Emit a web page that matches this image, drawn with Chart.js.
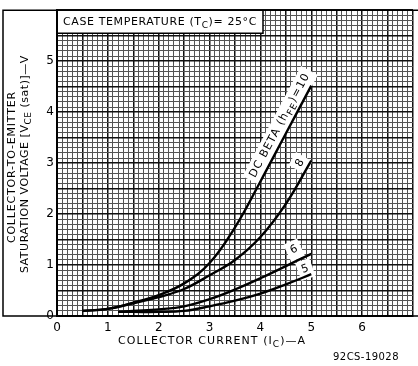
<!DOCTYPE html>
<html>
<head>
<meta charset="utf-8">
<script src="https://cdn.jsdelivr.net/npm/chart.js@4.4.0/dist/chart.umd.min.js"></script>
<style>
  html, body { margin: 0; padding: 0; background: #fff; }
  #wrap { width: 418px; height: 366px; }
</style>
</head>
<body>
<div id="wrap"><canvas id="vce" width="418" height="366"></canvas></div>
<script>
// collector current (A) and saturation voltage (V)
const currentHigh = [0.5, 1, 1.5, 2, 2.5, 3, 3.5, 4, 4.5, 5];
const vceBeta10 = [0.1, 0.14, 0.26, 0.41, 0.64, 1.04, 1.74, 2.64, 3.58, 4.52];
const vceBeta8 = [0.1, 0.14, 0.25, 0.37, 0.53, 0.8, 1.1, 1.55, 2.2, 3.05];
const currentLow = [1.2, 1.5, 2, 2.5, 3, 3.5, 4, 4.5, 5];
const vceBeta6 = [0.08, 0.1, 0.13, 0.19, 0.33, 0.52, 0.74, 0.98, 1.22];
const vceBeta5 = [0.08, 0.08, 0.08, 0.1, 0.19, 0.3, 0.44, 0.62, 0.82];

const xTickLabels = [0, 1, 2, 3, 4, 5, 6];
const yTickLabels = [0, 1, 2, 3, 4, 5];

// curve tags, in data units (x = A, y = V), angle in degrees
const curveTags = [
  { segs: [['DC BETA (h'], ['FE', 1], [')=10']], x: 4.38, y: 3.74, rot: -62 },
  { segs: [['8']], x: 4.78, y: 3.0, rot: -60 },
  { segs: [['6']], x: 4.66, y: 1.3, rot: -25 },
  { segs: [['5']], x: 4.88, y: 0.92, rot: -20 }
];

const FONT = '"DejaVu Sans"';

const pts = (xs, ys) => xs.map((x, i) => ({ x: x, y: ys[i] }));
const isHalf = v => Math.abs(v * 2 - Math.round(v * 2)) < 1e-6;
const isInt = v => Math.abs(v - Math.round(v)) < 1e-6;

// one grid line every 0.1
function tenthTicks(scale) {
  const out = [];
  for (let i = Math.round(scale.min * 10); i <= Math.round(scale.max * 10); i++) {
    out.push({ value: i / 10 });
  }
  scale.ticks = out;
}

// draw text made of normal + subscript pieces
function segWidth(ctx, segs, size) {
  let w = 0;
  segs.forEach(s => {
    ctx.font = (s[1] ? Math.round(size * 0.8) : size) + 'px ' + FONT;
    w += ctx.measureText(s[0]).width;
  });
  return w;
}
function drawSegs(ctx, segs, x, y, size, spacing) {
  ctx.letterSpacing = spacing + 'px';
  const w = segWidth(ctx, segs, size);
  let cx = x - w / 2;
  segs.forEach(s => {
    ctx.font = (s[1] ? Math.round(size * 0.8) : size) + 'px ' + FONT;
    ctx.fillText(s[0], cx, s[1] ? y + size * 0.35 : y);
    cx += ctx.measureText(s[0]).width;
  });
  ctx.letterSpacing = '0px';
  return w;
}
// spacing so the text fills a given width
function fitSpacing(ctx, segs, size, target) {
  ctx.letterSpacing = '0px';
  const w = segWidth(ctx, segs, size);
  const n = segs.reduce((a, s) => a + s[0].length, 0);
  return Math.max(0, (target - w) / n);
}

const decor = {
  id: 'decor',
  beforeDatasetsDraw(chart) {
    // curve tags on white patches, under the curves
    const ctx = chart.ctx;
    const xs = chart.scales.x, ys = chart.scales.y;
    ctx.save();
    ctx.textBaseline = 'middle';
    curveTags.forEach(t => {
      const px = xs.getPixelForValue(t.x), py = ys.getPixelForValue(t.y);
      ctx.save();
      ctx.translate(px, py);
      ctx.rotate(t.rot * Math.PI / 180);
      const sp = t.segs.length > 1 ? 1 : 0;
      ctx.letterSpacing = sp + 'px';
      const w = segWidth(ctx, t.segs, 11);
      ctx.fillStyle = '#fff';
      ctx.fillRect(-w / 2 - 4, -9, w + 8, 19);
      ctx.fillStyle = '#000';
      drawSegs(ctx, t.segs, 0, 0, 11, sp);
      ctx.restore();
    });
    ctx.restore();
  },
  afterDatasetsDraw(chart) {
    const ctx = chart.ctx;
    const area = chart.chartArea;
    ctx.save();
    ctx.textBaseline = 'middle';
    // case temperature box
    ctx.fillStyle = '#fff';
    ctx.fillRect(area.left + 1, area.top, 205, 23);
    ctx.strokeStyle = '#000';
    ctx.lineWidth = 1.5;
    ctx.beginPath();
    ctx.moveTo(area.left, area.top + 23);
    ctx.lineTo(area.left + 206, area.top + 23);
    ctx.lineTo(area.left + 206, area.top);
    ctx.stroke();
    ctx.fillStyle = '#000';
    const caseSegs = [['CASE TEMPERATURE (T'], ['C', 1], [')= 25°C']];
    drawSegs(ctx, caseSegs, area.left + 103, area.top + 12, 11, fitSpacing(ctx, caseSegs, 11, 194));
    ctx.restore();
  },
  afterDraw(chart) {
    const ctx = chart.ctx;
    const area = chart.chartArea;
    const xs = chart.scales.x;
    ctx.save();
    // outer frame
    ctx.strokeStyle = '#000';
    ctx.lineWidth = 1.5;
    ctx.beginPath();
    ctx.moveTo(420, area.top);
    ctx.lineTo(3, area.top);
    ctx.lineTo(3, area.bottom);
    ctx.lineTo(420, area.bottom);
    ctx.stroke();

    ctx.fillStyle = '#000';
    ctx.textBaseline = 'middle';

    // y title, two rotated lines
    const midY = (area.top + area.bottom) / 2;
    const l1 = [['COLLECTOR-TO-EMITTER']];
    const l2 = [['SATURATION VOLTAGE [V'], ['CE', 1], [' (sat)]—V']];
    ctx.save();
    ctx.translate(12, midY + 4);
    ctx.rotate(-Math.PI / 2);
    drawSegs(ctx, l1, 0, 0, 11, fitSpacing(ctx, l1, 11, 152));
    ctx.restore();
    ctx.save();
    ctx.translate(25, midY + 1);
    ctx.rotate(-Math.PI / 2);
    drawSegs(ctx, l2, 0, 0, 11, fitSpacing(ctx, l2, 11, 218));
    ctx.restore();

    // x title
    const xt = [['COLLECTOR CURRENT (I'], ['C', 1], [')—A']];
    drawSegs(ctx, xt, xs.getPixelForValue(3.05), 341, 11, fitSpacing(ctx, xt, 11, 188));

    // drawing code
    const code = [['92CS-19028']];
    drawSegs(ctx, code, 366, 357, 10, fitSpacing(ctx, code, 10, 66));
    ctx.restore();
  }
};

const lineStyle = {
  borderColor: '#000',
  borderWidth: 2.4,
  pointRadius: 0,
  fill: false,
  tension: 0.4
};

const gridStyle = {
  drawTicks: false,
  color: c => (c.tick && isHalf(c.tick.value)) ? '#111' : '#555',
  lineWidth: c => (c.tick && isHalf(c.tick.value)) ? 1.5 : 1
};

new Chart(document.getElementById('vce'), {
  type: 'line',
  data: {
    datasets: [
      Object.assign({ label: 'hFE=10', data: pts(currentHigh, vceBeta10) }, lineStyle),
      Object.assign({ label: 'hFE=8', data: pts(currentHigh, vceBeta8) }, lineStyle),
      Object.assign({ label: 'hFE=6', data: pts(currentLow, vceBeta6) }, lineStyle),
      Object.assign({ label: 'hFE=5', data: pts(currentLow, vceBeta5) }, lineStyle)
    ]
  },
  options: {
    responsive: false,
    animation: false,
    devicePixelRatio: 1,
    layout: { padding: { top: 5, left: 0, right: 0, bottom: 0 } },
    plugins: { legend: { display: false }, tooltip: { enabled: false } },
    scales: {
      x: {
        type: 'linear',
        min: 0,
        max: 7,
        afterBuildTicks: tenthTicks,
        afterFit: s => { s.height = 50; },
        border: { color: '#000', width: 2 },
        grid: gridStyle,
        ticks: {
          autoSkip: false,
          maxRotation: 0,
          padding: 5,
          color: '#000',
          font: { family: 'DejaVu Sans', size: 12 },
          callback: v => (isInt(v) && xTickLabels.includes(Math.round(v))) ? String(Math.round(v)) : ''
        }
      },
      y: {
        type: 'linear',
        min: 0,
        max: 6,
        afterBuildTicks: tenthTicks,
        afterFit: s => { s.width = 57; },
        border: { color: '#000', width: 2 },
        grid: gridStyle,
        ticks: {
          autoSkip: false,
          padding: 3,
          color: '#000',
          font: { family: 'DejaVu Sans', size: 12 },
          callback: v => (isInt(v) && yTickLabels.includes(Math.round(v))) ? String(Math.round(v)) : ''
        }
      }
    }
  },
  plugins: [decor]
});
</script>
</body>
</html>
